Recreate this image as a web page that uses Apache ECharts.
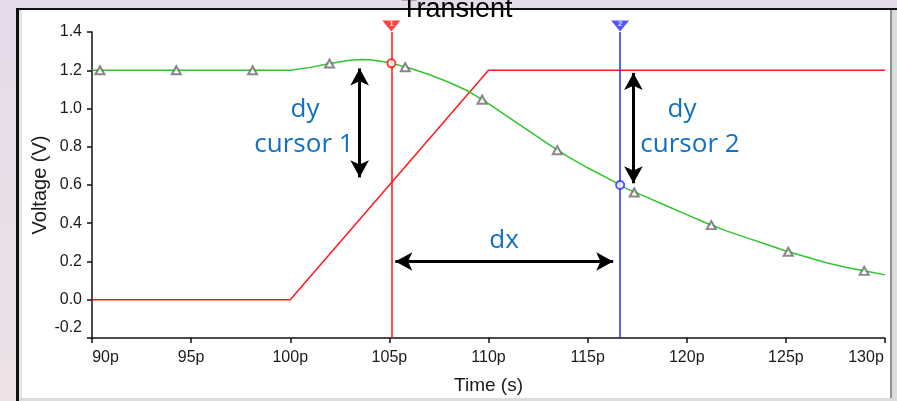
<!DOCTYPE html>
<html><head><meta charset="utf-8">
<script src="https://cdn.jsdelivr.net/npm/echarts@6/dist/echarts.min.js"></script>
<style>
html,body{margin:0;padding:0;width:897px;height:401px;overflow:hidden;}
body{background:linear-gradient(180deg,#e5dbeb 0%,#e9dde8 45%,#eee2e8 100%);}
#frame{position:absolute;left:16px;top:8px;width:881px;height:393px;box-sizing:border-box;border-top:2px solid #111;border-left:3px solid #111;background:#dcdcdc;}
#inner{position:absolute;left:19px;top:10px;width:873px;height:388px;box-sizing:border-box;background:#fff;border-left:3px solid #e4e4e4;border-right:2px solid #8f8f8f;}
#chart{position:absolute;left:0;top:0;width:897px;height:401px;}
</style></head>
<body>
<div id="frame"></div><div id="inner"></div><div id="chart"></div>
<script>
// ---- data (time in ps, voltage in V) ----
const inputT = [90, 100, 110, 130];
const inputV = [0, 0, 1.2, 1.2];

const outputT = [90, 100, 101, 102, 103, 103.6, 104, 105, 106, 107, 108, 109, 110, 111, 112, 113, 114, 115, 116, 117, 118, 119, 120, 121, 122, 123, 124, 125, 126, 127, 128, 129, 130];
const outputV = [1.2, 1.2, 1.215, 1.235, 1.252, 1.256, 1.255, 1.24, 1.212, 1.178, 1.137, 1.09, 1.025, 0.955, 0.885, 0.815, 0.748, 0.69, 0.636, 0.58, 0.535, 0.49, 0.445, 0.40, 0.36, 0.325, 0.29, 0.255, 0.225, 0.195, 0.17, 0.15, 0.13];

const markerT = [90.4, 94.25, 98.1, 101.98, 105.8, 109.68, 113.47, 117.35, 121.24, 125.12, 128.95];
const markerV = [1.2, 1.2, 1.2, 1.235, 1.216, 1.046, 0.782, 0.561, 0.39, 0.251, 0.151];

const cursorNames = ['1', '2'];
const cursorT = [105.1, 116.64];
const cursorV = [1.236, 0.6];

const arrowDy1 = [[103.5, 1.209], [103.5, 0.640]];
const arrowDy2 = [[117.31, 1.186], [117.31, 0.609]];
const arrowDx = [[105.3, 0.2], [116.29, 0.2]];

const xTicks = [90, 95, 100, 105, 110, 115, 120, 125, 130];
const yTicks = [-0.2, 0.0, 0.2, 0.4, 0.6, 0.8, 1.0, 1.2, 1.4];

const zip = (a, b) => a.map((v, i) => [v, b[i]]);
const cursorColors = ['#ff1010', '#2a2aff'];

const chart = echarts.init(document.getElementById('chart'), null, {renderer: 'canvas'});
const lblFont = {fontFamily: 'Liberation Sans, Arial, sans-serif', fontSize: 16, color: '#1a1a1a'};
const annFont = '26px "Open Sans", "Noto Sans", sans-serif';
const annColor = '#1270c0';

function arrowMark(pair) {
  return [{coord: pair[0]}, {coord: pair[1]}];
}

function cursorSeries(i) {
  return {
    type: 'scatter', name: 'cursor' + cursorNames[i],
    data: [[cursorT[i], yTicks[yTicks.length - 1]]],
    symbol: 'path://M0,0L20,0L10,12Z', symbolSize: [18, 11], symbolOffset: [0, -6],
    itemStyle: {color: cursorColors[i]}, clip: false, silent: true, z: 6,
    label: {show: true, position: 'inside', formatter: cursorNames[i], color: '#fff', fontSize: 8, fontWeight: 'bold', offset: [0, -2]},
    markLine: {silent: true, symbol: ['none', 'none'], label: {show: false},
      lineStyle: {color: cursorColors[i], width: 1.5, type: 'solid'},
      data: [{xAxis: cursorT[i]}], animation: false}
  };
}

const option = {
  animation: false,
  title: {text: 'Transient', left: 401, top: -4, padding: 0,
    textStyle: {fontFamily: 'Liberation Sans, Arial, sans-serif', fontSize: 27, fontWeight: 'normal', color: '#000'}},
  grid: {left: 92, right: 12, top: 32, bottom: 63},
  xAxis: {
    type: 'value', min: xTicks[0], max: xTicks[xTicks.length - 1], interval: 5,
    name: 'Time (s)', nameLocation: 'middle', nameGap: 38, nameMoveOverlap: false,
    nameTextStyle: {fontFamily: 'Liberation Sans, Arial, sans-serif', fontSize: 19, color: '#1a1a1a'},
    axisLine: {show: true, onZero: false, lineStyle: {color: '#111', width: 1.5}},
    axisTick: {show: true, length: 5, lineStyle: {color: '#111', width: 1.5}},
    splitLine: {show: false},
    axisLabel: Object.assign({}, lblFont, {margin: 12,
      formatter: v => {
        if (v === xTicks[0]) return '{first|' + v + 'p}';
        if (v === xTicks[xTicks.length - 1]) return '{last|' + v + 'p}';
        return v + 'p';
      },
      rich: {first: Object.assign({}, lblFont, {padding: [0, 0, 0, 27]}),
             last: Object.assign({}, lblFont, {padding: [0, 38, 0, 0]})}})
  },
  yAxis: {
    type: 'value', min: yTicks[0], max: yTicks[yTicks.length - 1], interval: 0.2,
    name: 'Voltage (V)', nameLocation: 'middle', nameGap: 42, nameMoveOverlap: false,
    nameTextStyle: {fontFamily: 'Liberation Sans, Arial, sans-serif', fontSize: 20, color: '#1a1a1a'},
    axisLine: {show: true, lineStyle: {color: '#111', width: 1.5}},
    axisTick: {show: true, length: 5, lineStyle: {color: '#111', width: 1.5}},
    splitLine: {show: false},
    axisLabel: Object.assign({}, lblFont, {margin: 10,
      formatter: v => {
        const s = (Math.abs(v) < 1e-9 ? 0 : v).toFixed(1);
        if (Math.abs(v - yTicks[0]) < 1e-9) return '{lo|' + s + '}';
        return s;
      },
      rich: {lo: Object.assign({}, lblFont, {padding: [0, 0, 20, 0]})}})
  },
  series: [
    {type: 'line', name: 'input', data: zip(inputT, inputV), symbol: 'none',
      lineStyle: {color: '#ff1a1a', width: 1.5}, itemStyle: {color: '#ff1a1a'}, z: 3},
    {type: 'line', name: 'output', data: zip(outputT, outputV), symbol: 'none',
      lineStyle: {color: '#30c430', width: 1.5}, itemStyle: {color: '#30c430'}, z: 3},
    {type: 'scatter', name: 'markers', data: zip(markerT, markerV), symbol: 'emptyTriangle', symbolSize: [9, 8],
      itemStyle: {color: '#6a6a6a', borderWidth: 1.2}, z: 4, silent: true},
    cursorSeries(0),
    cursorSeries(1),
    {type: 'scatter', name: 'cursorHits', data: cursorT.map((t, i) => ({value: [t, cursorV[i]], itemStyle: {color: cursorColors[i]}})),
      symbol: 'emptyCircle', symbolSize: 8, z: 5, silent: true},
    {type: 'scatter', name: 'arrows', data: [], silent: true,
      markLine: {silent: true, symbol: ['arrow', 'arrow'], symbolSize: [14, 17], label: {show: false},
        lineStyle: {color: '#000', width: 3, type: 'solid'}, animation: false,
        data: [arrowMark(arrowDy1), arrowMark(arrowDy2), arrowMark(arrowDx)]}}
  ],
  graphic: [
    {type: 'text', x: 305, y: 110, style: {text: 'dy', font: annFont, fill: annColor, textAlign: 'center', textVerticalAlign: 'middle'}},
    {type: 'text', x: 304, y: 145, style: {text: 'cursor 1', font: annFont, fill: annColor, textAlign: 'center', textVerticalAlign: 'middle'}},
    {type: 'text', x: 682, y: 110, style: {text: 'dy', font: annFont, fill: annColor, textAlign: 'center', textVerticalAlign: 'middle'}},
    {type: 'text', x: 690, y: 145, style: {text: 'cursor 2', font: annFont, fill: annColor, textAlign: 'center', textVerticalAlign: 'middle'}},
    {type: 'text', x: 504, y: 241, style: {text: 'dx', font: annFont, fill: annColor, textAlign: 'center', textVerticalAlign: 'middle'}}
  ]
};
chart.setOption(option);
</script>
</body></html>
